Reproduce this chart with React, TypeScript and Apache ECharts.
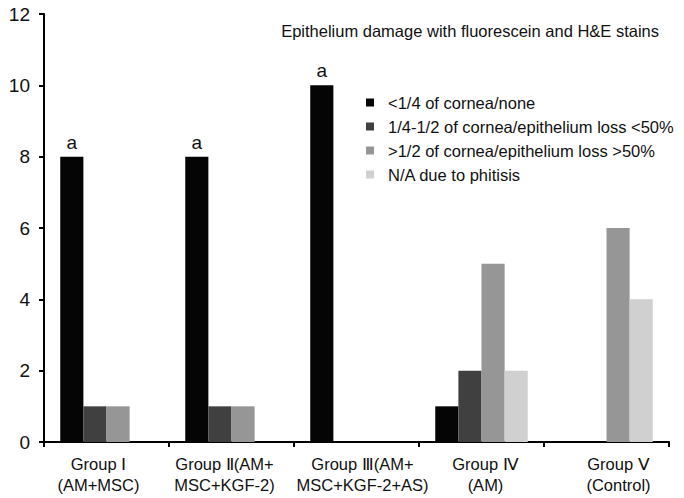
import React, { useEffect, useRef } from "react";
import * as echarts from "echarts";

const categories = [
  "Group Ⅰ\n(AM+MSC)",
  "Group Ⅱ(AM+\nMSC+KGF-2)",
  "Group Ⅲ(AM+\nMSC+KGF-2+AS)",
  "Group Ⅳ\n(AM)",
  "Group Ⅴ\n(Control)",
];
const seriesNames = [
  "<1/4 of cornea/none",
  "1/4-1/2 of cornea/epithelium loss <50%",
  ">1/2 of cornea/epithelium loss >50%",
  "N/A due to phitisis",
];
const noneVals = [8, 8, 10, 1, 0];
const lessHalfVals = [1, 1, 0, 2, 0];
const moreHalfVals = [1, 1, 0, 5, 6];
const phitisisVals = [0, 0, 0, 2, 4];
const sigLabels = ["a", "a", "a", "", ""];
const labelShift = [-8, -7, 6, 4, 12];
const colors = ["#050505", "#404040", "#969696", "#d0d0d0"];
const titleText = "Epithelium damage with fluorescein and H&E stains";

export default function App() {
  const ref = useRef<HTMLDivElement>(null);
  useEffect(() => {
    if (!ref.current) return;
    const chart = echarts.init(ref.current, null, { renderer: "svg" });
    const font = "Liberation Sans, Arial, sans-serif";
    const allVals = [noneVals, lessHalfVals, moreHalfVals, phitisisVals];
    chart.setOption({
      animation: false,
      backgroundColor: "#ffffff",
      textStyle: { fontFamily: font },
      title: {
        text: titleText,
        right: 25,
        top: 22,
        padding: 0,
        textStyle: { fontSize: 16.5, fontWeight: "normal", color: "#111", fontFamily: font },
      },
      legend: {
        orient: "vertical",
        left: 366,
        top: 94,
        padding: 0,
        itemWidth: 8,
        itemHeight: 8,
        itemGap: 7,
        icon: "rect",
        textStyle: { fontSize: 16.5, color: "#111", fontFamily: font, padding: [0, 0, 0, 9] },
        data: seriesNames,
      },
      grid: { left: 44, right: 15, top: 14, bottom: 56, containLabel: false },
      xAxis: {
        type: "category",
        data: categories.map((c, i) => {
          const s = labelShift[i];
          return {
            value: c,
            textStyle: { padding: s < 0 ? [0, -2 * s, 0, 0] : [0, 0, 0, 2 * s] },
          };
        }),
        axisLine: { lineStyle: { color: "#000", width: 2 } },
        axisTick: { show: true, length: 5, lineStyle: { color: "#000", width: 2 } },
        axisLabel: { interval: 0, fontSize: 16.5, color: "#111", lineHeight: 21, margin: 11, fontFamily: font },
      },
      yAxis: {
        type: "value",
        min: 0,
        max: 12,
        interval: 2,
        splitLine: { show: false },
        axisLine: { show: true, lineStyle: { color: "#000", width: 2 } },
        axisTick: { show: true, length: 5, lineStyle: { color: "#000", width: 2 } },
        axisLabel: { fontSize: 19, color: "#111", margin: 14, fontFamily: font },
      },
      series: seriesNames.map((name, i) => ({
        name,
        type: "bar",
        data: allVals[i].map((v, j) =>
          i === 0 && sigLabels[j]
            ? {
                value: v,
                label: {
                  show: true,
                  position: "top",
                  formatter: sigLabels[j],
                  fontSize: 19,
                  color: "#111",
                  distance: 5,
                  fontFamily: font,
                },
              }
            : v
        ),
        barGap: "0%",
        barCategoryGap: "26%",
        itemStyle: { color: colors[i] },
      })),
    });
    return () => chart.dispose();
  }, []);
  return (
    <div
      ref={ref}
      style={{ position: "fixed", left: 0, top: 0, width: 684, height: 498 }}
    />
  );
}
